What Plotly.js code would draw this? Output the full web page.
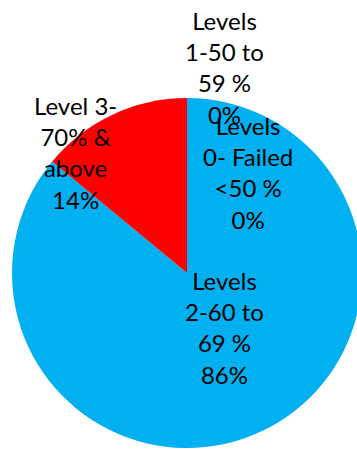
<!DOCTYPE html>
<html>
<head>
<meta charset="utf-8">
<script src="https://cdn.plot.ly/plotly-3.0.1.min.js"></script>
<style>
html,body{margin:0;padding:0;overflow:hidden;background:#fff;width:357px;height:449px;}
#chart{width:400px;height:449px;}
</style>
</head>
<body>
<div id="chart"></div>
<script>
// Data
const categories = ['Levels 0- Failed <50 %', 'Levels 1-50 to 59 %', 'Levels 2-60 to 69 %', 'Level 3-70% & above'];
const labelLines = [
  ['Levels', '0- Failed', '&lt;50 %'],
  ['Levels', '1-50 to', '59 %'],
  ['Levels', '2-60 to', '69 %'],
  ['Level 3-', '70% &amp;', 'above']
];
const values = [0, 0, 86, 14];
const colors = ['#00B0F0', '#00B0F0', '#00B0F0', '#FF0000'];

const W = 400, H = 449;
// label block centres (pixels)
const labelPos = [[248, 172], [224, 67], [224, 327], [75, 152]];

const total = values.reduce((a, b) => a + b, 0);
const annotations = categories.map((c, i) => {
  const pct = Math.round(values[i] / total * 100) + '%';
  return {
    xref: 'paper', yref: 'paper',
    x: labelPos[i][0] / W, y: 1 - labelPos[i][1] / H,
    xanchor: 'center', yanchor: 'middle',
    showarrow: false,
    align: 'center',
    text: labelLines[i].concat([pct]).join('<br>'),
    font: {family: 'Lato, "Open Sans", sans-serif', size: 24, color: '#000'}
  };
});
// Draw "Levels 1" block first so the overlapping "Levels 0" block sits on top, like the reference
const order = [1, 3, 0, 2];

const trace = {
  type: 'pie',
  labels: categories,
  values: values,
  sort: false,
  direction: 'clockwise',
  rotation: 0,
  marker: {colors: colors, line: {width: 0}},
  textinfo: 'none',
  hoverinfo: 'label+percent',
  showlegend: false,
  domain: {x: [12 / W, 362 / W], y: [1 - 448 / H, 1 - 98 / H]}
};

Plotly.newPlot('chart', [trace], {
  width: W, height: H,
  margin: {l: 0, r: 0, t: 0, b: 0},
  paper_bgcolor: '#fff',
  showlegend: false,
  annotations: order.map(i => annotations[i])
}, {staticPlot: true});
</script>
</body>
</html>
